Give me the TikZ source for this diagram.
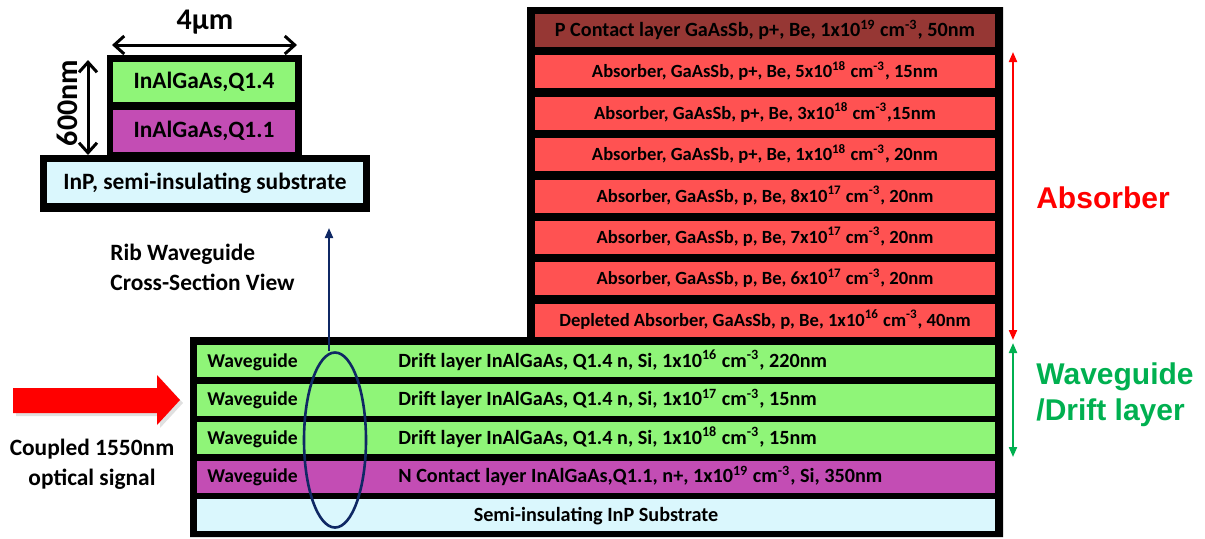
\documentclass[tikz,border=0pt]{standalone}
\usepackage{fontspec}
\setmainfont{Carlito}
\newfontfamily\arialfont{Liberation Sans}
\usetikzlibrary{arrows.meta,shapes.geometric}

\definecolor{wggreen}{RGB}{143,245,120}
\definecolor{ncmag}{RGB}{195,77,180}
\definecolor{absred}{RGB}{255,82,82}
\definecolor{pcbrown}{RGB}{150,55,52}
\definecolor{subcyan}{RGB}{218,247,253}
\definecolor{ellnavy}{RGB}{15,40,100}
\definecolor{lblgreen}{RGB}{0,176,80}

\begin{document}
\begin{tikzpicture}
	[x=0.5pt,y=-0.5pt,
	 layertxt/.style={font=\fontsize{9.3}{11}\selectfont\bfseries,inner sep=0,text height=8pt,text depth=2pt},
	 drifttxt/.style={font=\fontsize{10.1}{11}\selectfont\bfseries,inner sep=0,text height=8pt,text depth=2pt},
	 wgtxt/.style={font=\fontsize{9.8}{11}\selectfont\bfseries,inner sep=0,text height=8pt,text depth=2pt},
	 bigtxt/.style={font=\fontsize{11.7}{15}\selectfont\bfseries,inner sep=0},
	 dimtxt/.style={font=\fontsize{15}{18}\selectfont\bfseries,inner sep=0},
	 sidetxt/.style={font=\arialfont\fontsize{15}{18}\selectfont\bfseries,inner sep=0},
	 dimarrow/.style={line width=1.5pt,{Straight Barb[length=5pt,width=9pt]}-{Straight Barb[length=5pt,width=9pt]}},
	 sidearrow/.style={line width=1pt,{Triangle[length=5pt,width=4pt]}-{Triangle[length=5pt,width=4pt]}}]

\useasboundingbox (0,0) rectangle (1205,538);

% rib waveguide cross-section
	\fill[black] (107,55) rectangle (302,155);
	\fill[black] (40,155) rectangle (370,212);
	\fill[wggreen] (113,62) rectangle (295,102);
	\fill[ncmag] (113,110) rectangle (295,152);
	\fill[subcyan] (47,162) rectangle (363,203);
	\node[bigtxt] (csq14) at (204,82) {InAlGaAs,Q1.4};
	\node[bigtxt] (csq11) at (204,131) {InAlGaAs,Q1.1};
	\node[bigtxt] (cssub) at (205,183) {InP, semi-insulating substrate};

	\coordinate (wleft) at (112,45);
	\coordinate (wright) at (297,45);
	\draw[dimarrow] (wleft)--(wright);
	\node[dimtxt] (wlbl) at (205,22) {4µm};
	\coordinate (htop) at (88,60);
	\coordinate (hbot) at (88,155);
	\draw[dimarrow] (htop)--(hbot);
	\node[dimtxt,rotate=90] (hlbl) at (67,103) {600nm};

	\node[bigtxt,anchor=west,align=left] (rib) at (110,267) {Rib Waveguide\\Cross-Section View};

% layer stack
	\fill[black] (527,7)--(1003,7)--(1003,537)--(190,537)--(190,337)--(527,337)--cycle;

	\fill[pcbrown] (535,14) rectangle ++(460,33);
	\node[drifttxt] (abs0) at (765,30.5) {P Contact layer GaAsSb, p+, Be, 1x10\textsuperscript{19} cm\textsuperscript{-3}, 50nm};

	\foreach \ii/\txt in {1/{Absorber, GaAsSb, p+, Be, 5x10\textsuperscript{18} cm\textsuperscript{-3}, 15nm},
	                      2/{Absorber, GaAsSb, p+, Be, 3x10\textsuperscript{18} cm\textsuperscript{-3},15nm},
	                      3/{Absorber, GaAsSb, p+, Be, 1x10\textsuperscript{18} cm\textsuperscript{-3}, 20nm},
	                      4/{Absorber, GaAsSb, p, Be, 8x10\textsuperscript{17} cm\textsuperscript{-3}, 20nm},
	                      5/{Absorber, GaAsSb, p, Be, 7x10\textsuperscript{17} cm\textsuperscript{-3}, 20nm},
	                      6/{Absorber, GaAsSb, p, Be, 6x10\textsuperscript{17} cm\textsuperscript{-3}, 20nm},
	                      7/{Depleted Absorber, GaAsSb, p, Be, 1x10\textsuperscript{16} cm\textsuperscript{-3}, 40nm}}
	{
	 \fill[absred] (535,{14+41.4*\ii}) rectangle ++(460,33);
	 \node[layertxt] (abs\ii) at (765,{30.5+41.4*\ii}) {\txt};
	}

	\foreach \jj/\col/\txt in {0/wggreen/{Drift layer InAlGaAs, Q1.4 n, Si, 1x10\textsuperscript{16} cm\textsuperscript{-3}, 220nm},
	                           1/wggreen/{Drift layer InAlGaAs, Q1.4 n, Si, 1x10\textsuperscript{17} cm\textsuperscript{-3}, 15nm},
	                           2/wggreen/{Drift layer InAlGaAs, Q1.4 n, Si, 1x10\textsuperscript{18} cm\textsuperscript{-3}, 15nm},
	                           3/ncmag/{N Contact layer InAlGaAs,Q1.1, n+, 1x10\textsuperscript{19} cm\textsuperscript{-3}, Si, 350nm}}
	{
	 \fill[\col] (197,{345+38.5*\jj}) rectangle ++(798,32);
	 \node[wgtxt,anchor=west] (wg\jj) at (207,{361+38.5*\jj}) {Waveguide};
	 \node[drifttxt,anchor=west] (drift\jj) at (398,{361+38.5*\jj}) {\txt};
	}

	\fill[subcyan] (197,499) rectangle (995,531);
	\node[drifttxt] (sub) at (596,515) {Semi-insulating InP Substrate};

% input signal
	\fill[black!12] (16,391)--(160,391)--(160,378)--(183,403)--(160,428)--(160,416)--(16,416)--cycle;
	\fill[red] (13,388)--(157,388)--(157,375)--(180,400)--(157,425)--(157,413)--(13,413)--cycle;
	\node[bigtxt,align=center] (sig) at (92,464) {Coupled 1550nm\\optical signal};

% mode region and view arrow
	\node[draw=ellnavy,ellipse,line width=1.3pt,minimum width=31pt,minimum height=87.5pt,inner sep=0] (ell) at (335,440) {};
	\coordinate (cstip) at (329,228);
	\draw[ellnavy,line width=1pt,-{Triangle[length=5pt,width=4pt]}] (ell.north -| cstip)--(cstip);

% region markers
	\coordinate (abstop) at (1013,52);
	\coordinate (absbot) at (1013,340);
	\draw[red,sidearrow] (abstop)--(absbot);
	\node[sidetxt,text=red] (abslbl) at (1103,198) {Absorber};
	\coordinate (wgtop) at (1013,343);
	\coordinate (wgbot) at (1013,457);
	\draw[lblgreen,sidearrow] (wgtop)--(wgbot);
	\node[sidetxt,text=lblgreen,anchor=west,align=left] (wglbl) at (1036,395) {Waveguide\\/Drift layer};

\end{tikzpicture}
\end{document}
